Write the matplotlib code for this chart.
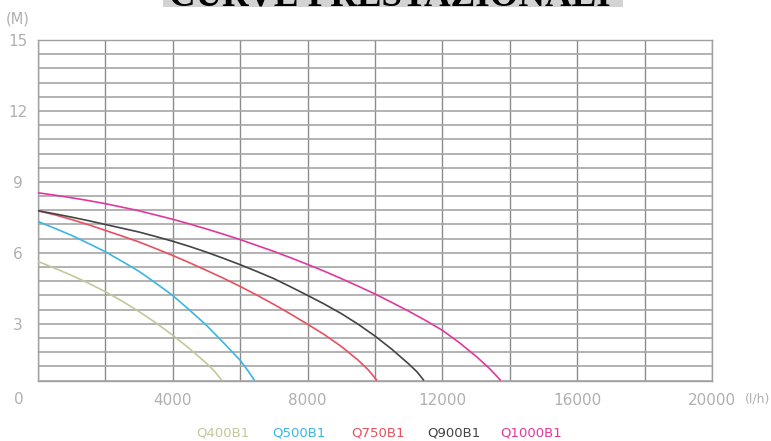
import numpy as np
import matplotlib
matplotlib.use("Agg")
import matplotlib.pyplot as plt
from matplotlib.patches import Rectangle

# ---- data (flow l/h, head m) ----
q400_x = [0, 500, 1000, 1500, 2000, 2500, 3000, 3500, 4000, 4500, 5000, 5250, 5460]
q400_y = [5.64, 5.35, 5.05, 4.72, 4.36, 3.96, 3.52, 3.04, 2.52, 1.95, 1.33, 0.98, 0.6]

q500_x = [0, 500, 1000, 1500, 2000, 2500, 3000, 3500, 4000, 4500, 5000, 5500, 6000, 6250, 6430]
q500_y = [7.33, 7.04, 6.74, 6.40, 6.05, 5.64, 5.22, 4.72, 4.20, 3.58, 2.94, 2.21, 1.46, 0.98, 0.6]

q750_x = [0, 500, 1000, 1500, 2000, 2500, 3000, 3500, 4000, 4500, 5000, 5500, 6000,
          6500, 7000, 7500, 8000, 8500, 9000, 9500, 9800, 10060]
q750_y = [7.78, 7.61, 7.41, 7.19, 6.95, 6.71, 6.46, 6.18, 5.89, 5.58, 5.26, 4.93, 4.58,
          4.21, 3.82, 3.41, 2.98, 2.54, 2.04, 1.46, 1.05, 0.6]

q900_x = [0, 500, 1000, 1500, 2000, 2500, 3000, 3500, 4000, 4500, 5000, 5500, 6000,
          6500, 7000, 7500, 8000, 8500, 9000, 9500, 10000, 10500, 11000, 11250, 11450]
q900_y = [7.78, 7.65, 7.51, 7.36, 7.20, 7.04, 6.88, 6.69, 6.49, 6.27, 6.03, 5.77, 5.50,
          5.21, 4.91, 4.56, 4.20, 3.83, 3.43, 2.98, 2.48, 1.92, 1.30, 0.96, 0.6]

q1000_x = [0, 500, 1000, 1500, 2000, 2500, 3000, 3500, 4000, 4500, 5000, 5500, 6000,
           6500, 7000, 7500, 8000, 8500, 9000, 9500, 10000, 10500, 11000, 11500, 12000,
           12500, 13000, 13400, 13730]
q1000_y = [8.54, 8.44, 8.33, 8.21, 8.08, 7.93, 7.78, 7.60, 7.42, 7.22, 7.01, 6.79, 6.56,
           6.31, 6.06, 5.79, 5.51, 5.22, 4.91, 4.59, 4.26, 3.90, 3.53, 3.14, 2.72,
           2.20, 1.62, 1.10, 0.6]

series_names = ["Q400B1", "Q500B1", "Q750B1", "Q900B1", "Q1000B1"]
series_colors = ["#c4c79a", "#3bb6e2", "#e8505e", "#444444", "#e0389e"]
series_x = [q400_x, q500_x, q750_x, q900_x, q1000_x]
series_y = [q400_y, q500_y, q750_y, q900_y, q1000_y]

x_ticks = [4000, 8000, 12000, 16000, 20000]
x_ticklabels = ["4000", "8000", "12000", "16000", "20000"]
y_ticks = [3, 6, 9, 12, 15]
y_ticklabels = ["3", "6", "9", "12", "15"]

title_text = "CURVE PRESTAZIONALI"

# ---- figure ----
W, H = 771, 441
fig = plt.figure(figsize=(W / 100, H / 100), dpi=100)
ax = fig.add_axes([37.7 / W, 1 - 380.5 / H, (712.3 - 37.7) / W, (380.5 - 40) / H])

sans = ["DejaVu Sans"]
tick_color = "#b0b0b0"
tick_size = 11

ax.set_xlim(0, 20000)
ax.set_ylim(0.6, 15)

# grid lines: every 2000 l/h and every 0.6 m
ax.set_xticks(np.arange(0, 20001, 2000), minor=True)
ax.set_yticks(np.arange(0.6, 15.01, 0.6), minor=True)
ax.set_xticks(x_ticks)
ax.set_xticklabels(x_ticklabels)
ax.set_yticks(y_ticks)
ax.set_yticklabels(y_ticklabels)
for which in ("major", "minor"):
    ax.grid(which=which, axis="x", color="#8c8c8c", linewidth=1.0)
    ax.grid(which=which, axis="y", color="#a6a6a6", linewidth=1.2)
ax.tick_params(which="both", length=0)
ax.tick_params(which="major", colors=tick_color, labelsize=tick_size)
ax.tick_params(axis="x", pad=9)
ax.tick_params(axis="y", pad=14.4)
for lab in ax.get_yticklabels():
    lab.set_horizontalalignment("center")
    lab.set_fontfamily(sans)
for lab in ax.get_xticklabels():
    lab.set_fontfamily(sans)

for s in ax.spines.values():
    s.set_color("#a0a0a0")
    s.set_linewidth(1.0)

for xs, ys, c in zip(series_x, series_y, series_colors):
    ax.plot(xs, ys, color=c, linewidth=1.2, solid_joinstyle="round",
            solid_capstyle="butt", zorder=3)

# corner / unit labels
fig.text(19 / W, 1 - 399.5 / H, "0", ha="center", va="center", color=tick_color,
         fontsize=tick_size, family=sans)
fig.text(17.5 / W, 1 - 19 / H, "(M)", ha="center", va="center", color=tick_color,
         fontsize=tick_size - 0.5, family=sans)
fig.text(745 / W, 1 - 399.5 / H, "(l/h)", ha="left", va="center", color=tick_color,
         fontsize=9, family=sans)

# legend as coloured text
legend_centers = [223, 299, 378, 453.5, 531]
for name, c, cx in zip(series_names, series_colors, legend_centers):
    fig.text(cx / W, 1 - 433 / H, name, ha="center", va="center", color=c,
             fontsize=9.5, family=sans)

# title (cut off at the top, as in the original)
fig.patches.append(Rectangle((163 / W, 1 - 6.7 / H), (623 - 163) / W, 6.7 / H + 0.01,
                             transform=fig.transFigure, facecolor="#d3d3d3",
                             edgecolor="none", zorder=0))
fig.text(389.5 / W, 1 - 5.5 / H, title_text, ha="center", va="baseline",
         fontsize=26.6, fontweight="bold", family=["Liberation Serif", "DejaVu Serif"],
         color="black", zorder=2)

fig.savefig("out.png", dpi=100)
